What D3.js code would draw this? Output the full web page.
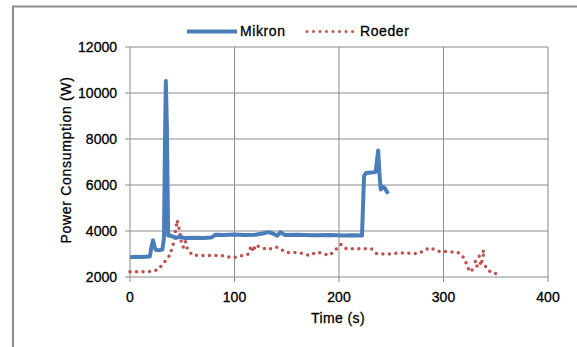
<!DOCTYPE html>
<html>
<head>
<meta charset="utf-8">
<script src="https://cdn.jsdelivr.net/npm/d3@7"></script>
<style>
  body { margin: 0; background: #fff; }
  text { font-family: "Liberation Sans", Arial, sans-serif; fill: #000; stroke: #000; stroke-width: 0.3px; }
</style>
</head>
<body>
<svg id="chart" width="577" height="347"></svg>
<script>
// Mikron series: [time (s), power (W)]
const mikron = [
  [0, 2860], [5, 2880], [10, 2870], [15, 2880], [19, 2890], [20.5, 3300], [22, 3600], [23.5, 3300],
  [25, 3170], [28, 3160], [31, 3200], [32.5, 3700], [33.5, 8000], [34.3, 10520], [35.3, 8500],
  [36.5, 3800], [40, 3780], [44, 3700], [48, 3750], [52, 3700], [60, 3710], [70, 3700], [78, 3720],
  [82, 3840], [90, 3830], [100, 3850], [110, 3830], [120, 3840], [128, 3900], [133, 3950],
  [138, 3860], [141, 3800], [144, 3950], [148, 3830], [160, 3840], [175, 3810], [190, 3830],
  [205, 3800], [215, 3810], [222, 3800], [224, 6400], [226, 6520], [231, 6540], [235, 6560],
  [237.5, 7500], [239, 6300], [240, 5800], [242, 5920], [244, 5850], [247, 5620]
];

// Roeder series: [time (s), power (W)]
const roeder = [
  [0, 2230], [10, 2230], [20, 2240], [27, 2320], [33, 2650], [38, 2940], [42, 3520], [45, 4470],
  [47, 4100], [49, 3550], [51, 3300], [53, 3550], [55, 3200], [60, 2950], [70, 2940], [86, 2940],
  [99, 2840], [113, 2990], [116, 3360], [118, 3100], [120, 3400], [123, 3330], [132, 3190],
  [140, 3300], [150, 3060], [161, 3060], [172, 2940], [179, 3090], [191, 2940], [197, 3190],
  [202, 3420], [207, 3230], [220, 3230], [231, 3230], [236, 3020], [247, 2990], [258, 3050],
  [276, 3020], [287, 3280], [294, 3130], [306, 3090], [313, 3090], [318, 2940], [322, 2580],
  [325, 2220], [329, 2360], [333, 2520], [337, 2680], [339, 3160], [336, 3020], [332, 2760],
  [330, 2640], [334, 2600], [338, 2580], [341, 2420], [343, 2290], [347, 2150], [354, 2150]
];

const xTicks = [0, 100, 200, 300, 400];
const yTicks = [2000, 4000, 6000, 8000, 10000, 12000];
const seriesNames = ['Mikron', 'Roeder'];

const svg = d3.select('#chart');

const margin = { left: 130, right: 29, top: 47, bottom: 70 };
const width = 577, height = 347;

const x = d3.scaleLinear().domain([0, 400]).range([margin.left, width - margin.right]);
const y = d3.scaleLinear().domain([2000, 12000]).range([height - margin.bottom, margin.top]);

// outer frame (only left and top edges visible)
svg.append('path')
  .attr('d', `M13,${height}V6.5H${width}`)
  .attr('fill', 'none')
  .attr('stroke', '#8c8c8c')
  .attr('stroke-width', 2);

// gridlines
svg.append('g')
  .selectAll('line')
  .data(yTicks)
  .enter()
  .append('line')
  .attr('x1', x(0) - 5)
  .attr('x2', x(400))
  .attr('y1', d => y(d))
  .attr('y2', d => y(d))
  .attr('stroke', '#8a8a8a')
  .attr('stroke-width', 1);

svg.append('g')
  .selectAll('line')
  .data(xTicks)
  .enter()
  .append('line')
  .attr('x1', d => x(d))
  .attr('x2', d => x(d))
  .attr('y1', y(12000))
  .attr('y2', y(2000) + 5)
  .attr('stroke', '#8a8a8a')
  .attr('stroke-width', 1);

// tick labels
svg.append('g')
  .selectAll('text')
  .data(yTicks)
  .enter()
  .append('text')
  .attr('x', x(0) - 13)
  .attr('y', d => y(d))
  .attr('dy', '0.35em')
  .attr('text-anchor', 'end')
  .style('font-size', '14px')
  .text(d => d);

svg.append('g')
  .selectAll('text')
  .data(xTicks)
  .enter()
  .append('text')
  .attr('x', d => x(d))
  .attr('y', y(2000) + 20)
  .attr('dy', '0.35em')
  .attr('text-anchor', 'middle')
  .style('font-size', '14px')
  .text(d => d);

// axis titles
svg.append('text')
  .attr('x', 338)
  .attr('y', 318)
  .attr('dy', '0.35em')
  .attr('text-anchor', 'middle')
  .style('font-size', '14px')
  .style('letter-spacing', '0.4px')
  .text('Time (s)');

svg.append('text')
  .attr('transform', 'translate(66,160) rotate(-90)')
  .attr('dy', '0.35em')
  .attr('text-anchor', 'middle')
  .style('font-size', '14px')
  .style('letter-spacing', '0.7px')
  .text('Power Consumption (W)');

// series lines
const line = d3.line().x(d => x(d[0])).y(d => y(d[1]));

svg.append('path')
  .datum(roeder)
  .attr('d', line)
  .attr('fill', 'none')
  .attr('stroke', '#c0504d')
  .attr('stroke-width', 3.5)
  .attr('stroke-linecap', 'round')
  .attr('stroke-dasharray', '0 6.5');

svg.append('path')
  .datum(mikron)
  .attr('d', line)
  .attr('fill', 'none')
  .attr('stroke', '#4a7ebb')
  .attr('stroke-width', 4)
  .attr('stroke-linejoin', 'round');

// legend
const legend = svg.append('g').attr('transform', 'translate(0,31.5)');

legend.append('line')
  .attr('x1', 187).attr('x2', 237)
  .attr('stroke', '#4a7ebb').attr('stroke-width', 4);
legend.append('text')
  .attr('x', 240).attr('dy', '0.35em')
  .style('font-size', '14px')
  .style('letter-spacing', '0.6px')
  .text(seriesNames[0]);

legend.append('line')
  .attr('x1', 307).attr('x2', 353)
  .attr('stroke', '#c0504d').attr('stroke-width', 3)
  .attr('stroke-linecap', 'round')
  .attr('stroke-dasharray', '0 6.5');
legend.append('text')
  .attr('x', 360).attr('dy', '0.35em')
  .style('font-size', '14px')
  .style('letter-spacing', '0.6px')
  .text(seriesNames[1]);
</script>
</body>
</html>
